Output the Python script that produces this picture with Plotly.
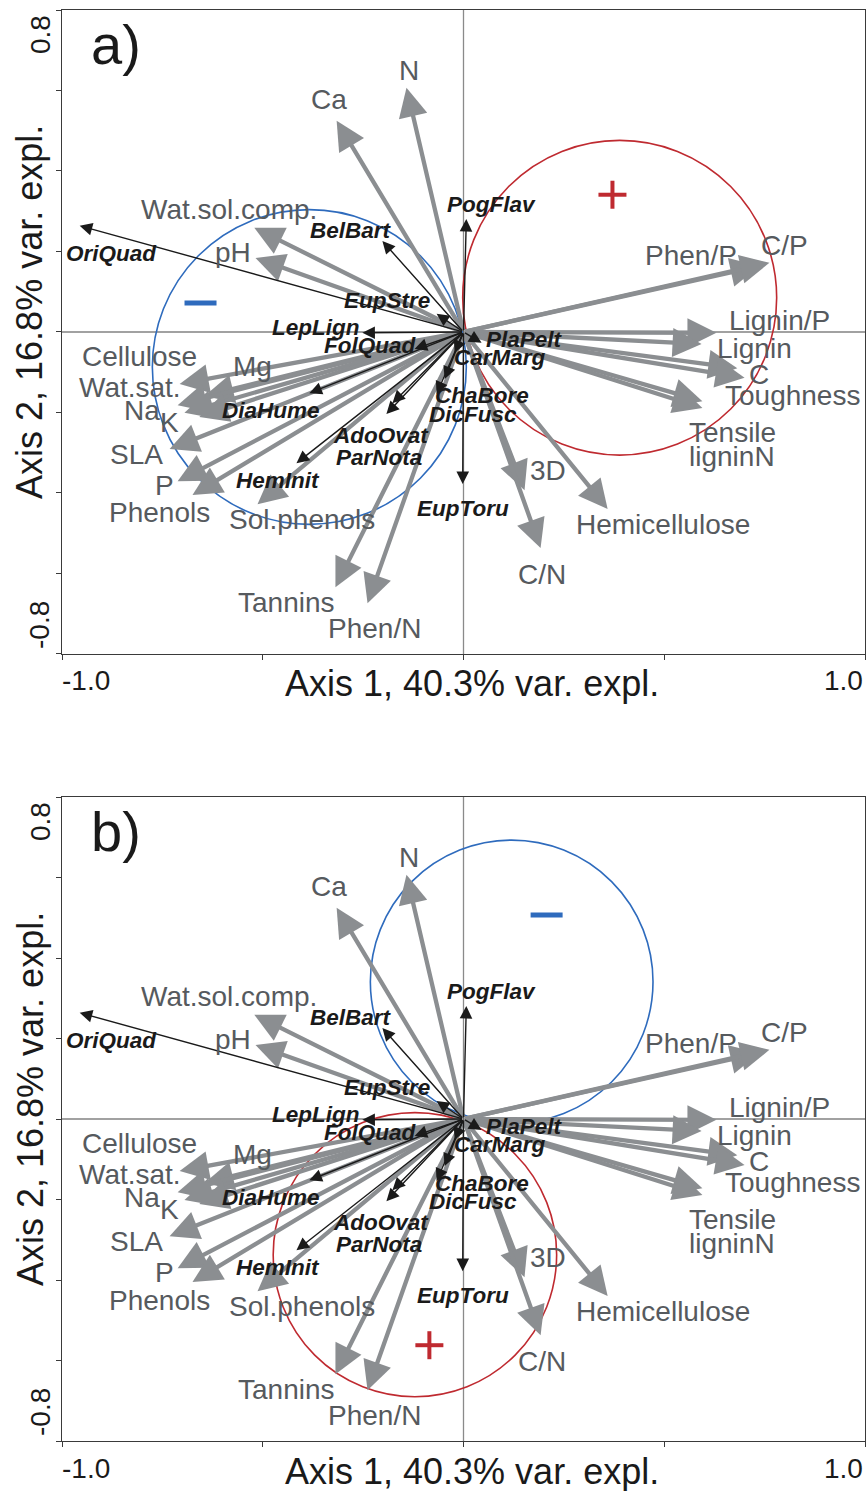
import plotly.graph_objects as go

# ---------------- data ----------------
traits = ["N", "Ca", "Wat.sol.comp.", "pH", "Cellulose", "Mg", "Wat.sat.", "Na", "K",
          "SLA", "P", "Phenols", "Sol.phenols", "Tannins", "Phen/N", "3D", "C/N",
          "Hemicellulose", "Phen/P", "C/P", "Lignin/P", "Lignin", "C", "Toughness",
          "Tensile", "ligninN"]
trait_x = [-0.142, -0.316, -0.521, -0.518, -0.707, -0.645, -0.712, -0.695, -0.658,
           -0.732, -0.712, -0.675, -0.513, -0.319, -0.239, 0.152, 0.192,
           0.359, 0.737, 0.762, 0.630, 0.593, 0.682, 0.700,
           0.595, 0.595]
trait_y = [0.607, 0.525, 0.259, 0.184, -0.129, -0.159, -0.182, -0.201, -0.211,
           -0.291, -0.371, -0.405, -0.428, -0.634, -0.674, -0.393, -0.537,
           -0.440, 0.164, 0.172, -0.002, -0.030, -0.090, -0.114,
           -0.172, -0.189]

species = ["OriQuad", "BelBart", "PogFlav", "EupStre", "LepLign", "FolQuad", "PlaPelt",
           "CarMarg", "DiaHume", "ChaBore", "DicFusc", "AdoOvat", "ParNota", "HemInit",
           "EupToru"]
species_x = [-0.956, -0.202, 0.007, -0.067, -0.252, -0.122, 0.045,
             -0.022, -0.384, -0.067, -0.047, -0.177, -0.192, -0.416,
             -0.002]
species_y = [0.264, 0.226, 0.281, 0.045, -0.002, -0.042, -0.027,
             -0.052, -0.152, -0.154, -0.117, -0.177, -0.204, -0.326,
             -0.378]

# group circles drawn on the two panels
circle_panel = ["a", "a", "b", "b"]
circle_kind = ["minus", "plus", "minus", "plus"]
circle_cx = [-0.384, 0.389, 0.120, -0.121]
circle_cy = [-0.087, 0.085, 0.341, -0.337]
circle_r = [0.391, 0.391, 0.352, 0.353]
sign_x = [-0.655, 0.371, 0.207, -0.085]
sign_y = [0.072, 0.341, 0.507, -0.562]

x_range = [-1.0, 1.0]
y_range = [-0.8, 0.8]
x_ticks = [-1.0, -0.5, 0.0, 0.5, 1.0]
y_ticks = [-0.8, -0.6, -0.4, -0.2, 0.0, 0.2, 0.4, 0.6, 0.8]
x_title = "Axis 1, 40.3% var. expl."
y_title = "Axis 2, 16.8% var. expl."

# ---------------- label offsets (pixels, relative to arrow tip) ----------------
trait_off = {
    "N": (3, 17), "Ca": (-8, 21), "Wat.sol.comp.": (-25, 18), "pH": (-23, 5),
    "Cellulose": (-40, 27), "Mg": (48, 29), "Wat.sat.": (-48, 18), "Na": (-42, 2),
    "K": (-30, -6), "SLA": (-33, -5), "P": (-13, -4), "Phenols": (-33, -18),
    "Sol.phenols": (44, -15), "Tannins": (-49, -15), "Phen/N": (7, -25),
    "3D": (23, 20), "C/N": (1, -26), "Hemicellulose": (55, -15), "Phen/P": (-68, 10),
    "C/P": (15, 17), "Lignin/P": (63, 12), "Lignin": (53, -4), "C": (22, -6),
    "Toughness": (48, -18), "Tensile": (30, -31), "ligninN": (30, -48),
}
species_off = {
    "OriQuad": (32, -28), "BelBart": (-31, 11), "PogFlav": (25, 14), "EupStre": (-50, 13),
    "LepLign": (-47, 5), "FolQuad": (-45, 3), "PlaPelt": (43, 3), "CarMarg": (45, -5),
    "DiaHume": (-38, -17), "ChaBore": (45, -2), "DicFusc": (28, -35), "AdoOvat": (-11, -32),
    "ParNota": (-7, -43), "HemInit": (-18, -17), "EupToru": (0, -24),
}

FONT = "Liberation Sans, Arial, Helvetica, sans-serif"
GRAY_ARROW = "#8b8e91"
GRAY_TEXT = "#565a5e"
BLACK = "#1a1a1a"
BLUE = "#2e6bbd"
RED = "#bf2a30"

fig = go.Figure()
annotations = []
shapes = []

panels = [("a", "x", "y"), ("b", "x2", "y2")]
for pname, xr, yr in panels:
    # zero lines
    shapes.append(dict(type="line", xref=xr, yref=yr, x0=0, x1=0, y0=y_range[0], y1=y_range[1],
                       line=dict(color="#8a8a8a", width=1.3), layer="below"))
    shapes.append(dict(type="line", xref=xr, yref=yr, x0=x_range[0], x1=x_range[1], y0=0, y1=0,
                       line=dict(color="#444444", width=1.1), layer="below"))
    # circles
    for p, k, cx, cy, r, sx, sy in zip(circle_panel, circle_kind, circle_cx, circle_cy,
                                        circle_r, sign_x, sign_y):
        if p != pname:
            continue
        col = BLUE if k == "minus" else RED
        shapes.append(dict(type="circle", xref=xr, yref=yr, x0=cx - r, x1=cx + r,
                           y0=cy - r, y1=cy + r, line=dict(color=col, width=1.6)))
        if k == "minus":
            shapes.append(dict(type="line", xref=xr, yref=yr, xsizemode="pixel", ysizemode="pixel",
                               xanchor=sx, yanchor=sy, x0=-16, x1=16, y0=0, y1=0,
                               line=dict(color=col, width=5)))
        else:
            shapes.append(dict(type="line", xref=xr, yref=yr, xsizemode="pixel", ysizemode="pixel",
                               xanchor=sx, yanchor=sy, x0=-14, x1=14, y0=0, y1=0,
                               line=dict(color=col, width=4)))
            shapes.append(dict(type="line", xref=xr, yref=yr, xsizemode="pixel", ysizemode="pixel",
                               xanchor=sx, yanchor=sy, x0=0, x1=0, y0=-14, y1=14,
                               line=dict(color=col, width=4)))

    # gray trait arrows
    for name, tx, ty in zip(traits, trait_x, trait_y):
        annotations.append(dict(x=tx, y=ty, ax=0, ay=0, xref=xr, yref=yr, axref=xr, ayref=yr,
                                text="", showarrow=True, arrowhead=2, arrowsize=1.35,
                                arrowwidth=4.3, arrowcolor=GRAY_ARROW, standoff=0, startstandoff=0))
    # black species arrows
    for name, sx_, sy_ in zip(species, species_x, species_y):
        annotations.append(dict(x=sx_, y=sy_, ax=0, ay=0, xref=xr, yref=yr, axref=xr, ayref=yr,
                                text="", showarrow=True, arrowhead=2, arrowsize=1.8,
                                arrowwidth=1.4, arrowcolor=BLACK, standoff=0, startstandoff=0))
    # trait labels
    for name, tx, ty in zip(traits, trait_x, trait_y):
        dx, dy = trait_off[name]
        annotations.append(dict(x=tx, y=ty, xref=xr, yref=yr, text=name, showarrow=False,
                                xshift=dx, yshift=dy, xanchor="center", yanchor="middle",
                                font=dict(family=FONT, size=28, color=GRAY_TEXT)))
    # species labels
    for name, sx_, sy_ in zip(species, species_x, species_y):
        dx, dy = species_off[name]
        annotations.append(dict(x=sx_, y=sy_, xref=xr, yref=yr,
                                text="<b><i>%s</i></b>" % name, showarrow=False,
                                xshift=dx, yshift=dy, xanchor="center", yanchor="middle",
                                font=dict(family=FONT, size=22.5, color=BLACK)))
    # panel letter
    annotations.append(dict(x=x_range[0], y=y_range[1], xref=xr, yref=yr, text=pname + ")",
                            showarrow=False, xshift=54, yshift=-34, xanchor="center",
                            yanchor="middle", font=dict(family=FONT, size=56, color=BLACK)))
    # tick labels
    annotations.append(dict(x=x_range[0], y=y_range[0], xref=xr, yref=yr, text="%.1f" % x_range[0],
                            showarrow=False, xshift=24, yshift=-27, xanchor="center",
                            yanchor="middle", font=dict(family=FONT, size=28, color=BLACK)))
    annotations.append(dict(x=x_range[1], y=y_range[0], xref=xr, yref=yr, text="%.1f" % x_range[1],
                            showarrow=False, xshift=-22, yshift=-27, xanchor="center",
                            yanchor="middle", font=dict(family=FONT, size=28, color=BLACK)))
    annotations.append(dict(x=x_range[0], y=y_range[1], xref=xr, yref=yr, text="%.1f" % y_range[1],
                            showarrow=False, xshift=-22, yshift=-25, textangle=-90,
                            xanchor="center", yanchor="middle",
                            font=dict(family=FONT, size=28, color=BLACK)))
    annotations.append(dict(x=x_range[0], y=y_range[0], xref=xr, yref=yr, text="%.1f" % y_range[0],
                            showarrow=False, xshift=-22, yshift=29, textangle=-90,
                            xanchor="center", yanchor="middle",
                            font=dict(family=FONT, size=28, color=BLACK)))
    # axis titles
    annotations.append(dict(x=0, y=y_range[0], xref=xr, yref=yr, text=x_title,
                            showarrow=False, xshift=8, yshift=-30, xanchor="center",
                            yanchor="middle", font=dict(family=FONT, size=36, color=BLACK)))
    annotations.append(dict(x=x_range[0], y=0, xref=xr, yref=yr, text=y_title,
                            showarrow=False, xshift=-32, yshift=20, textangle=-90,
                            xanchor="center", yanchor="middle",
                            font=dict(family=FONT, size=36, color=BLACK)))

axis_common = dict(showgrid=False, zeroline=False, showline=True, mirror=True,
                   linecolor="#3a3a3a", linewidth=1.2, ticks="outside", tickcolor="#3a3a3a",
                   showticklabels=False, fixedrange=True)

fig.update_layout(
    width=866, height=1491,
    margin=dict(l=62, r=1, t=10, b=50),
    paper_bgcolor="white", plot_bgcolor="white",
    showlegend=False,
    xaxis=dict(domain=[0, 1], range=x_range, anchor="y", tickvals=x_ticks, ticklen=5, **axis_common),
    yaxis=dict(domain=[0.55, 1], range=y_range, anchor="x", tickvals=y_ticks, ticklen=5, **axis_common),
    xaxis2=dict(domain=[0, 1], range=x_range, anchor="y2", tickvals=x_ticks, ticklen=5, **axis_common),
    yaxis2=dict(domain=[0, 0.45], range=y_range, anchor="x2", tickvals=y_ticks, ticklen=5, **axis_common),
    annotations=annotations,
    shapes=shapes,
)

# remove the default page margin and scrollbars so the figure fills the window exactly
fig.write_html(
    "out.html",
    config={"displayModeBar": False},
    post_script=("document.body.style.margin='0';"
                 "document.body.style.overflow='hidden';"
                 "document.documentElement.style.overflow='hidden';"),
)
